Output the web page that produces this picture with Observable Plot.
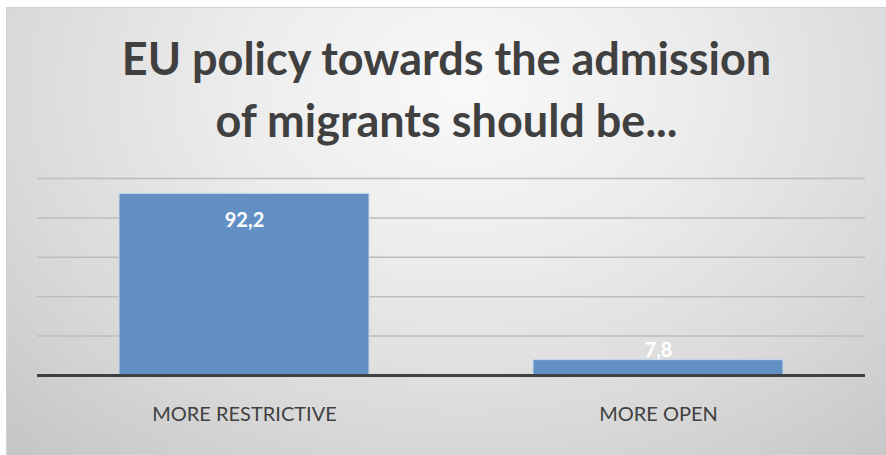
<!DOCTYPE html>
<html>
<head>
<meta charset="utf-8">
<script src="https://cdn.jsdelivr.net/npm/d3@7"></script>
<script src="https://cdn.jsdelivr.net/npm/@observablehq/plot@0.6"></script>
<style>
  html, body { margin: 0; padding: 0; background: #ffffff; }
  body { width: 886px; height: 455px; overflow: hidden; position: relative; }
  #chart {
    position: absolute; left: 6px; top: 7px; width: 880px; height: 448px;
    border-top: 1px solid #d0d0d0; border-left: 1px solid #d0d0d0; box-sizing: border-box;
    background: radial-gradient(ellipse 75% 110% at 52% 18%, #f9f9f9 0%, #ececec 35%, #d9d9d9 70%, #c6c6c6 100%);
    font-family: Lato, "Open Sans", sans-serif;
  }
  #title {
    height: 157px; box-sizing: border-box; padding-top: 19px;
    text-align: center; font-weight: 700; font-size: 45px; line-height: 62px; color: #404040;
    overflow: hidden;
  }
  #plot svg { display: block; }
</style>
</head>
<body>
<div id="chart">
  <div id="title">EU policy towards the admission<br>of migrants should be...</div>
  <div id="plot"></div>
</div>
<script>
const categories = ["MORE RESTRICTIVE", "MORE OPEN"];
const values = [92.2, 7.8];
const gridTicks = [20, 40, 60, 80, 100];

const data = categories.map((c, i) => ({category: c, value: values[i]}));
const fmt = d => d.toFixed(1).replace(".", ",");

const chart = Plot.plot({
  width: 879,
  height: 290,
  marginTop: 13,
  marginBottom: 80,
  marginLeft: 30,
  marginRight: 21,
  style: {background: "transparent", fontFamily: "Lato, 'Open Sans', sans-serif", overflow: "visible"},
  x: {domain: categories, paddingInner: 0.395, paddingOuter: 0.1975, label: null},
  y: {domain: [0, 100], axis: null},
  marks: [
    Plot.ruleY(gridTicks, {stroke: "#bdbdbd", strokeWidth: 1.5}),
    Plot.barY(data, {x: "category", y: "value", fill: "#6290c5", stroke: "#c8d8ec", strokeWidth: 1}),
    Plot.ruleY([0], {stroke: "#404040", strokeWidth: 3}),
    Plot.text(data.filter(d => d.value >= 20), {x: "category", y: "value", text: d => fmt(d.value), dy: 27, fill: "white", fontWeight: "bold", fontSize: 20}),
    Plot.text(data.filter(d => d.value < 20), {x: "category", y: "value", text: d => fmt(d.value), dy: -10, fill: "white", fontWeight: "bold", fontSize: 20}),
    Plot.axisX({tickSize: 0, tickPadding: 31, fontSize: 20, fill: "#404040", label: null})
  ]
});
document.getElementById("plot").appendChild(chart);
</script>
</body>
</html>
